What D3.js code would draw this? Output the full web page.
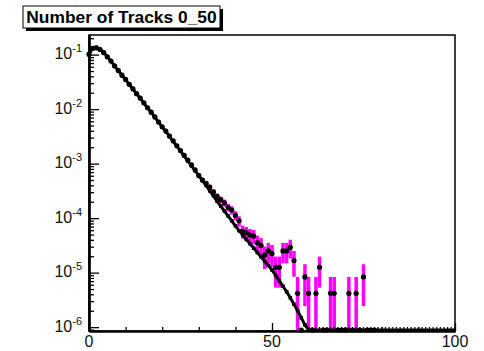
<!DOCTYPE html>
<html><head><meta charset="utf-8">
<script src="https://cdn.jsdelivr.net/npm/d3@7"></script>
<style>body{margin:0;background:#fff}</style>
</head><body><svg id="c" width="484" height="351"></svg>
<script>
// ---- data ----
const title = "Number of Tracks 0_50";
const xTickLabels = [0, 50, 100];
const xMinorTicks = [10, 20, 30, 40, 60, 70, 80, 90];
const yDecadeExps = [-6, -5, -4, -3, -2, -1];
// smooth reference histogram (index = bin, 0 = empty)
const lineValues = [
 1.00e-1, 1.32e-1, 1.35e-1, 1.26e-1, 1.10e-1, 9.12e-2, 7.59e-2, 6.17e-2, 5.13e-2, 4.17e-2,
 3.47e-2, 2.82e-2, 2.34e-2, 1.91e-2, 1.58e-2, 1.29e-2, 1.05e-2, 8.71e-3, 7.08e-3, 5.75e-3,
 4.68e-3, 3.89e-3, 3.16e-3, 2.57e-3, 2.09e-3, 1.70e-3, 1.38e-3, 1.12e-3, 9.12e-4, 7.41e-4,
 6.03e-4, 4.90e-4, 3.98e-4, 3.16e-4, 2.57e-4, 2.04e-4, 1.66e-4, 1.35e-4, 1.10e-4, 8.91e-5,
 7.24e-5, 5.89e-5, 4.90e-5, 4.07e-5, 3.39e-5, 2.82e-5, 2.34e-5, 1.95e-5, 1.62e-5, 1.35e-5,
 1.12e-5, 8.91e-6, 7.08e-6, 5.62e-6, 4.47e-6, 3.47e-6, 2.63e-6, 2.00e-6, 1.48e-6, 1.10e-6,
 0,0,0,0,0,0,0,0,0,0, 0,0,0,0,0,0,0,0,0,0, 0,0,0,0,0,0,0,0,0,0, 0,0,0,0,0,0,0,0,0,0, 0
];
// data points with errors (index = bin)
const pointValues = [
 1.02e-1, 1.30e-1, 1.33e-1, 1.24e-1, 1.09e-1, 9.10e-2, 7.60e-2, 6.20e-2, 5.10e-2, 4.20e-2,
 3.50e-2, 2.85e-2, 2.36e-2, 1.92e-2, 1.60e-2, 1.30e-2, 1.06e-2, 8.80e-3, 7.20e-3, 5.80e-3,
 4.75e-3, 3.95e-3, 3.20e-3, 2.62e-3, 2.13e-3, 1.74e-3, 1.42e-3, 1.16e-3, 9.50e-4, 7.70e-4,
 6.03e-4, 5.01e-4, 4.37e-4, 3.72e-4, 3.02e-4, 2.51e-4, 2.19e-4, 1.91e-4, 1.58e-4, 1.41e-4,
 1.12e-4, 8.91e-5, 5.75e-5, 5.37e-5, 4.90e-5, 4.68e-5, 3.55e-5, 3.16e-5, 2.09e-5, 2.50e-5,
 2.24e-5, 1.25e-5, 1.25e-5, 2.50e-5, 2.50e-5, 2.92e-5, 1.67e-5, 4.17e-6, 0, 8.34e-6,
 4.17e-6, 0, 4.17e-6, 1.25e-5, 0, 0, 4.17e-6, 4.17e-6, 0, 0,
 0, 4.17e-6, 0, 4.17e-6, 0, 8.34e-6, 0, 0, 0
];
const pointErrors = [
 6.5e-4, 7.4e-4, 7.4e-4, 7.2e-4, 6.7e-4, 6.2e-4, 5.6e-4, 5.1e-4, 4.6e-4, 4.2e-4,
 3.8e-4, 3.4e-4, 3.1e-4, 2.8e-4, 2.6e-4, 2.3e-4, 2.1e-4, 1.9e-4, 1.7e-4, 1.6e-4,
 1.4e-4, 1.3e-4, 1.15e-4, 1.05e-4, 9.4e-5, 8.5e-5, 7.7e-5, 7.0e-5, 6.3e-5, 5.7e-5,
 5.0e-5, 4.57e-5, 4.27e-5, 3.94e-5, 3.56e-5, 3.24e-5, 3.02e-5, 2.82e-5, 2.57e-5, 2.42e-5,
 2.16e-5, 1.93e-5, 1.55e-5, 1.50e-5, 1.43e-5, 1.40e-5, 1.22e-5, 1.15e-5, 9.3e-6, 1.02e-5,
 9.7e-6, 7.2e-6, 7.2e-6, 1.02e-5, 1.02e-5, 1.10e-5, 8.3e-6, 4.17e-6, 0, 5.9e-6,
 4.17e-6, 0, 4.17e-6, 7.2e-6, 0, 0, 4.17e-6, 4.17e-6, 0, 0,
 0, 4.17e-6, 0, 4.17e-6, 0, 5.9e-6, 0, 0, 0
];

// ---- drawing ----
const svg = d3.select("#c");
const L = 89, R = 455, T = 35, B = 331;
const yMin = 8.5e-7, yMax = 0.229;
const x = d3.scaleLinear().domain([0, 100]).range([L, R]);
const y = d3.scaleLog().domain([yMin, yMax]).range([B, T]);
const yv = v => v > yMin ? y(v) : B;

// frame
svg.append("rect").attr("x", L).attr("y", T).attr("width", R - L).attr("height", B - T)
  .attr("fill", "none").attr("stroke", "#000").attr("stroke-width", 1.5);

// error bars (magenta)
const pts = pointValues.map((v, i) => ({ x: i, v: v, e: pointErrors[i] }));
svg.append("g").selectAll("line").data(pts.filter(d => d.v > 0)).join("line")
  .attr("x1", d => x(d.x)).attr("x2", d => x(d.x))
  .attr("y1", d => yv(d.v - d.e)).attr("y2", d => yv(d.v + d.e))
  .attr("stroke", "#ff00ff").attr("stroke-width", 3.5);

// reference line
const lp = lineValues.map((v, i) => ({ x: i, v: v }));
svg.append("path").datum(lp)
  .attr("d", d3.line().x(d => x(d.x)).y(d => d.v > 0 ? yv(d.v) : B - 1))
  .attr("fill", "none").attr("stroke", "#000").attr("stroke-width", 3);
svg.append("g").selectAll("rect").data(lp.filter(d => d.v > 0)).join("rect")
  .attr("x", d => x(d.x) - 1.8).attr("y", d => yv(d.v) - 1.8).attr("width", 3.6).attr("height", 3.6)
  .attr("fill", "#000");
svg.append("g").selectAll("rect").data(lp.filter(d => d.v === 0)).join("rect")
  .attr("x", d => x(d.x) - 0.6).attr("y", B - 4).attr("width", 1.2).attr("height", 4)
  .attr("fill", "#000");

// data markers
const mk = svg.append("g");
mk.selectAll("line").data(pts).join("line")
  .attr("x1", d => x(d.x - 0.5)).attr("x2", d => x(d.x + 0.5))
  .attr("y1", d => d.v > 0 ? yv(d.v) : B - 1).attr("y2", d => d.v > 0 ? yv(d.v) : B - 1)
  .attr("stroke", "#000").attr("stroke-width", 1.5);
mk.selectAll("circle").data(pts).join("circle")
  .attr("cx", d => x(d.x)).attr("cy", d => d.v > 0 ? yv(d.v) : B - 1)
  .attr("r", 2.6).attr("fill", "#000");

// y axis ticks (inward)
const yMajors = yDecadeExps.map(e => Math.pow(10, e));
const yMinors = [];
yDecadeExps.concat([-7]).forEach(e => { for (let k = 2; k <= 9; k++) { const v = k * Math.pow(10, e); if (v > yMin && v < yMax) yMinors.push(v); } });
const ax1 = svg.append("g").attr("transform", `translate(${L},0)`)
  .call(d3.axisLeft(y).tickValues(yMajors).tickSize(-10).tickSizeOuter(0).tickFormat(""));
const ax2 = svg.append("g").attr("transform", `translate(${L},0)`)
  .call(d3.axisLeft(y).tickValues(yMinors).tickSize(-5).tickSizeOuter(0).tickFormat(""));
const ax3 = svg.append("g").attr("transform", `translate(0,${B})`)
  .call(d3.axisBottom(x).tickValues(xTickLabels).tickSize(-8).tickSizeOuter(0).tickFormat(""));
const ax4 = svg.append("g").attr("transform", `translate(0,${B})`)
  .call(d3.axisBottom(x).tickValues(xMinorTicks).tickSize(-4).tickSizeOuter(0).tickFormat(""));
[ax1, ax2, ax3, ax4].forEach(a => {
  a.selectAll(".tick line").attr("stroke", "#000").attr("stroke-width", 1.3);
  a.select(".domain").attr("stroke", "#000").attr("stroke-width", 2.2);
});

// y labels
const yl = svg.append("g").attr("font-family", "Liberation Sans, Arial, sans-serif").attr("fill", "#111");
yDecadeExps.forEach(e => {
  const t = yl.append("text").attr("x", 82).attr("y", y(Math.pow(10, e)) + 4.5)
    .attr("text-anchor", "end").attr("font-size", 16);
  t.append("tspan").text("10");
  t.append("tspan").attr("font-size", 11).attr("dy", -7).text("-" + Math.abs(e));
});
// x labels
svg.append("g").attr("font-family", "Liberation Sans, Arial, sans-serif").attr("fill", "#111")
  .selectAll("text").data(xTickLabels).join("text")
  .attr("x", d => x(d)).attr("y", 347).attr("text-anchor", "middle").attr("font-size", 16)
  .text(d => d);

// title box with shadow
svg.append("rect").attr("x", 26).attr("y", 9).attr("width", 197).attr("height", 22).attr("fill", "#000");
svg.append("rect").attr("x", 23).attr("y", 6).attr("width", 197).attr("height", 22)
  .attr("fill", "#fff").attr("stroke", "#000").attr("stroke-width", 1);
svg.append("text").attr("x", 121.5).attr("y", 22.5).attr("text-anchor", "middle")
  .attr("font-family", "Liberation Sans, Arial, sans-serif").attr("font-weight", "bold")
  .attr("font-size", 17.4).attr("fill", "#000").text(title);
</script></body></html>
